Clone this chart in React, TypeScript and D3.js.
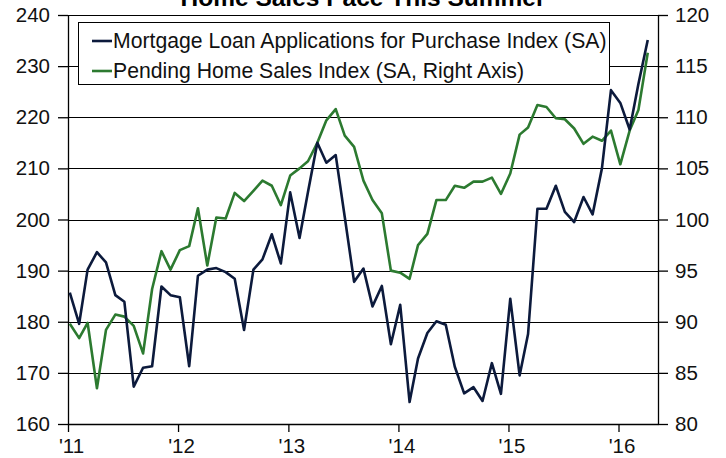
import React, { useRef, useEffect } from 'react';
import * as d3 from 'd3';

// Monthly values, Jan 2011 .. Apr 2016
const MORTGAGE = [
  185.7, 179.6, 190.2, 193.6, 191.6, 185.2, 183.9, 167.3, 171.0, 171.3, 186.9, 185.2,
  184.8, 171.3, 189.0, 190.2, 190.5, 189.7, 188.4, 178.4, 190.2, 192.2, 197.1, 191.4,
  205.3, 196.4, 205.4, 215.0, 211.1, 212.6, 200.5, 187.8, 190.4, 183.0, 187.0, 175.6,
  183.3, 164.3, 172.8, 177.8, 180.1, 179.4, 171.2, 166.0, 167.2, 164.5, 171.9, 165.9,
  184.5, 169.5, 177.6, 202.1, 202.1, 206.6, 201.5, 199.5, 204.4, 201.0, 210.0, 225.3,
  222.8, 217.6, 226.5, 235.1,
];

const PENDING = [
  89.8, 88.4, 89.9, 83.5, 89.2, 90.7, 90.5, 89.6, 86.9, 93.2, 96.9, 95.1,
  97.0, 97.4, 101.1, 95.5, 100.2, 100.1, 102.6, 101.8, 102.8, 103.8, 103.3, 101.4,
  104.3, 105.0, 105.7, 107.5, 109.7, 110.8, 108.2, 107.1, 103.8, 101.9, 100.6, 95.0,
  94.8, 94.2, 97.5, 98.6, 101.9, 101.9, 103.3, 103.1, 103.7, 103.7, 104.1, 102.5,
  104.5, 108.3, 109.0, 111.2, 111.0, 109.9, 109.8, 108.9, 107.4, 108.1, 107.7, 108.7,
  105.4, 108.7, 110.7, 116.3,
];

const LEFT_TICKS = [160, 170, 180, 190, 200, 210, 220, 230, 240];
const RIGHT_TICKS = [80, 85, 90, 95, 100, 105, 110, 115, 120];
const YEAR_LABELS = ["'11", "'12", "'13", "'14", "'15", "'16"];

const TITLE = 'Home Sales Pace This Summer';
const LEGEND = [
  { label: 'Mortgage Loan Applications for Purchase Index (SA)', color: '#0c1a3c' },
  { label: 'Pending Home Sales Index (SA, Right Axis)', color: '#2c7a30' },
];

const W = 726;
const H = 458;
const FONT = '"Liberation Sans", Arial, sans-serif';

export default function App() {
  const svgRef = useRef<SVGSVGElement | null>(null);

  useEffect(() => {
    if (!svgRef.current) return;
    const svg = d3.select(svgRef.current);
    svg.selectAll('*').remove();

    const left = 68, right = 658, top = 15, bottom = 424;

    const x = d3.scaleTime()
      .domain([new Date(2011, 0, 1), new Date(2016, 4, 11)])
      .range([left, right]);
    const yL = d3.scaleLinear().domain([160, 240]).range([bottom, top]);
    const yR = d3.scaleLinear().domain([80, 120]).range([bottom, top]);

    // point dates: one per month, plotted a week into the month
    const dates = MORTGAGE.map((_, i) => d3.timeDay.offset(new Date(2011, i, 1), 6));
    const years = YEAR_LABELS.map((_, i) => new Date(2011 + i, 0, 1));

    svg.append('rect').attr('width', W).attr('height', H).attr('fill', '#fff');

    // title (clipped at the top edge, as in the source)
    svg.append('text')
      .attr('x', 363).attr('y', 5.5)
      .attr('text-anchor', 'middle')
      .style('font-family', FONT)
      .style('font-size', '24.5px')
      .style('font-weight', 'bold')
      .text(TITLE);

    // gridlines
    svg.append('g')
      .selectAll('line')
      .data(LEFT_TICKS)
      .enter()
      .append('line')
      .attr('x1', left).attr('x2', right)
      .attr('y1', d => Math.round(yL(d)) + 0.5)
      .attr('y2', d => Math.round(yL(d)) + 0.5)
      .attr('stroke', '#000')
      .attr('stroke-width', 1);

    const styleAxis = (g: d3.Selection<SVGGElement, unknown, null, undefined>) => {
      g.select('.domain').attr('stroke', '#000').attr('stroke-width', 1.3);
      g.selectAll('.tick line').attr('stroke', '#000').attr('stroke-width', 1.3);
      g.selectAll('.tick text')
        .attr('fill', '#111')
        .style('font-family', FONT)
        .style('font-size', '20.5px');
    };

    // left axis
    const gL = svg.append('g')
      .attr('transform', `translate(${left},0)`)
      .call(d3.axisLeft(yL).tickValues(LEFT_TICKS).tickSize(10).tickPadding(8).tickSizeOuter(0));
    styleAxis(gL);

    // right axis
    const gR = svg.append('g')
      .attr('transform', `translate(${right},0)`)
      .call(d3.axisRight(yR).tickValues(RIGHT_TICKS).tickSize(10).tickPadding(7).tickSizeOuter(0));
    styleAxis(gR);

    // bottom axis
    const gB = svg.append('g')
      .attr('transform', `translate(0,${bottom})`)
      .call(
        d3.axisBottom(x)
          .tickValues(years)
          .tickSize(8)
          .tickPadding(6)
          .tickSizeOuter(0)
          .tickFormat((_, i) => YEAR_LABELS[i])
      );
    styleAxis(gB);
    gB.selectAll('.tick text').attr('dx', 3);

    // lines
    const lineL = d3.line<number>()
      .x((_, i) => x(dates[i]))
      .y(d => yL(d));
    const lineR = d3.line<number>()
      .x((_, i) => x(dates[i]))
      .y(d => yR(d));

    svg.append('path')
      .datum(PENDING)
      .attr('d', lineR)
      .attr('fill', 'none')
      .attr('stroke', LEGEND[1].color)
      .attr('stroke-width', 2.6)
      .attr('stroke-linejoin', 'round');

    svg.append('path')
      .datum(MORTGAGE)
      .attr('d', lineL)
      .attr('fill', 'none')
      .attr('stroke', LEGEND[0].color)
      .attr('stroke-width', 2.6)
      .attr('stroke-linejoin', 'round');

    // legend
    const lg = svg.append('g');
    lg.append('rect')
      .attr('x', 78.5).attr('y', 22.5)
      .attr('width', 531).attr('height', 62)
      .attr('fill', '#fff')
      .attr('stroke', '#000')
      .attr('stroke-width', 1);

    LEGEND.forEach((item, i) => {
      const by = 48 + i * 30;
      lg.append('line')
        .attr('x1', 92).attr('x2', 112)
        .attr('y1', by - 7).attr('y2', by - 7)
        .attr('stroke', item.color)
        .attr('stroke-width', 2.6);
      lg.append('text')
        .attr('x', 113).attr('y', by)
        .attr('fill', '#111')
        .style('font-family', FONT)
        .style('font-size', '21.2px')
        .text(item.label);
    });
  }, []);

  return (
    <div style={{ position: 'absolute', left: 0, top: 0 }}>
      <svg ref={svgRef} width={W} height={H} style={{ display: 'block' }} />
    </div>
  );
}
